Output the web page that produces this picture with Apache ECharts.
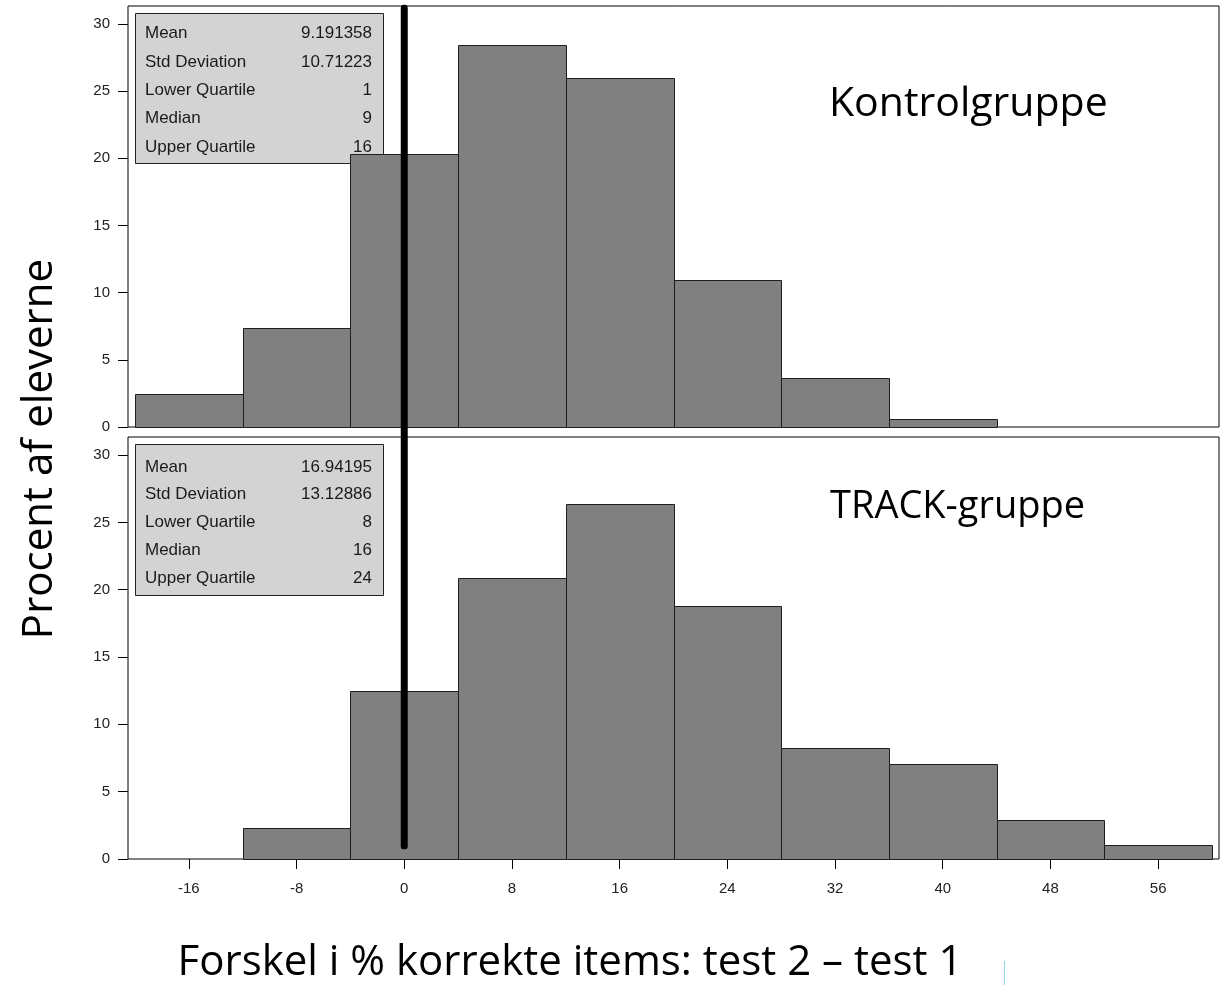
<!DOCTYPE html>
<html>
<head>
<meta charset="utf-8">
<script src="https://cdn.jsdelivr.net/npm/echarts@6/dist/echarts.min.js"></script>
<style>
html,body{margin:0;padding:0;background:#fff;}
#chart{width:1230px;height:985px;}
</style>
</head>
<body>
<div id="chart"></div>
<script>
// ---- data ----
const binCenters = [-16, -8, 0, 8, 16, 24, 32, 40, 48, 56];
const binWidth = 8;
const controlPct = [2.46, 7.37, 20.33, 28.44, 26.0, 10.95, 3.65, 0.6, null, null];
const trackPct   = [null, 2.30, 12.47, 20.86, 26.35, 18.78, 8.24, 7.05, 2.90, 1.04];
const xTickLabels = [-16, -8, 0, 8, 16, 24, 32, 40, 48, 56];
const yTickLabels = [0, 5, 10, 15, 20, 25, 30];
const statNames = ['Mean', 'Std Deviation', 'Lower Quartile', 'Median', 'Upper Quartile'];
const controlStats = ['9.191358', '10.71223', '1', '9', '16'];
const trackStats = ['16.94195', '13.12886', '8', '16', '24'];
const panelLabels = ['Kontrolgruppe', 'TRACK-gruppe'];
const yTitle = 'Procent af eleverne';
const xTitle = 'Forskel i % korrekte items: test 2 \u2013 test 1';
const referenceX = 0;

const X_MIN = -20.52, X_MAX = 60.52, Y_MAX = 31.34;

function toData(arr) {
  const out = [];
  arr.forEach((v, i) => { if (v !== null) out.push([binCenters[i], v]); });
  return out;
}

function renderBars(params, api) {
  const c = api.value(0), v = api.value(1);
  const p0 = api.coord([c - binWidth / 2, v]);
  const p1 = api.coord([c + binWidth / 2, 0]);
  return {
    type: 'rect',
    shape: { x: Math.round(p0[0]) + 0.5, y: Math.round(p0[1]) + 0.5,
             width: Math.round(p1[0]) - Math.round(p0[0]), height: Math.round(p1[1]) - Math.round(p0[1]) },
    style: { fill: '#808080', stroke: '#1e1e1e', lineWidth: 1 }
  };
}

const labelFont = { fontFamily: 'Liberation Sans', fontSize: 15, color: '#222' };

function xAxisCfg(gridIndex, showLabels) {
  return {
    type: 'value', gridIndex, min: X_MIN, max: X_MAX,
    axisLine: { show: false, onZero: false },
    splitLine: { show: false },
    axisTick: { show: showLabels, length: 10, customValues: xTickLabels, lineStyle: { color: '#000', width: 1 } },
    axisLabel: Object.assign({ show: showLabels, margin: 22, customValues: xTickLabels }, labelFont)
  };
}
function yAxisCfg(gridIndex) {
  return {
    type: 'value', gridIndex, min: 0, max: Y_MAX,
    axisLine: { show: false, onZero: false },
    splitLine: { show: false },
    axisTick: { show: true, inside: false, length: 10, customValues: yTickLabels, lineStyle: { color: '#000', width: 1 } },
    axisLabel: Object.assign({ margin: 18, customValues: yTickLabels }, labelFont)
  };
}

function statBox(x, y, h, rowYs, values) {
  const children = [{
    type: 'rect', shape: { x: x + 0.5, y: y + 0.5, width: 248, height: h },
    style: { fill: '#d3d3d3', stroke: '#222', lineWidth: 1 }
  }];
  statNames.forEach((n, i) => {
    children.push({ type: 'text', x: x + 10, y: rowYs[i],
      style: { text: n, fontFamily: 'Liberation Sans', fontSize: 17, fill: '#1a1a1a', verticalAlign: 'middle', align: 'left' } });
    children.push({ type: 'text', x: x + 237, y: rowYs[i],
      style: { text: values[i], fontFamily: 'Liberation Sans', fontSize: 17, fill: '#1a1a1a', verticalAlign: 'middle', align: 'right' } });
  });
  return { type: 'group', z: 100, children };
}

const chart = echarts.init(document.getElementById('chart'), null, { renderer: 'canvas' });
chart.setOption({
  animation: false,
  backgroundColor: '#fff',
  grid: [
    { left: 128, width: 1091, top: 6, height: 421, show: true, borderColor: '#000', borderWidth: 1, backgroundColor: 'transparent' },
    { left: 128, width: 1091, top: 437, height: 422, show: true, borderColor: '#000', borderWidth: 1, backgroundColor: 'transparent' },
    { left: 128, width: 1091, top: 8, height: 838, show: false }
  ],
  xAxis: [
    xAxisCfg(0, false),
    xAxisCfg(1, true),
    { type: 'value', gridIndex: 2, min: X_MIN, max: X_MAX, show: false }
  ],
  yAxis: [
    yAxisCfg(0),
    yAxisCfg(1),
    { type: 'value', gridIndex: 2, min: 0, max: 1, show: false }
  ],
  series: [
    { type: 'custom', xAxisIndex: 0, yAxisIndex: 0, renderItem: renderBars, data: toData(controlPct), encode: { x: 0, y: 1 }, z: 2 },
    { type: 'custom', xAxisIndex: 1, yAxisIndex: 1, renderItem: renderBars, data: toData(trackPct), encode: { x: 0, y: 1 }, z: 2 },
    { type: 'line', xAxisIndex: 2, yAxisIndex: 2, data: [[referenceX, 0], [referenceX, 1]], symbol: 'none',
      lineStyle: { color: '#000', width: 7, cap: 'round' }, z: 10, silent: true }
  ],
  graphic: [
    statBox(135, 13, 150, [33.5, 62, 90, 118, 147], controlStats),
    statBox(135, 444, 151, [467, 494, 522, 550, 578], trackStats),
    { type: 'text', x: 829, y: 104, z: 100,
      style: { text: panelLabels[0], fontFamily: 'Open Sans', fontSize: 41, fill: '#000', verticalAlign: 'middle', align: 'left' } },
    { type: 'text', x: 830, y: 507, z: 100,
      style: { text: panelLabels[1], fontFamily: 'Open Sans', fontSize: 38, fill: '#000', verticalAlign: 'middle', align: 'left' } },
    { type: 'text', x: 570, y: 963, z: 100,
      style: { text: xTitle, fontFamily: 'Open Sans', fontSize: 42, fill: '#000', verticalAlign: 'middle', align: 'center' } },
    { type: 'text', x: 40, y: 449, rotation: Math.PI / 2, z: 100,
      style: { text: yTitle, fontFamily: 'Open Sans', fontSize: 42, fill: '#000', verticalAlign: 'middle', align: 'center' } },
    { type: 'line', z: 100, shape: { x1: 1004.5, y1: 961, x2: 1004.5, y2: 985 }, style: { stroke: '#8fd3ec', lineWidth: 1 } }
  ]
});
</script>
</body>
</html>
